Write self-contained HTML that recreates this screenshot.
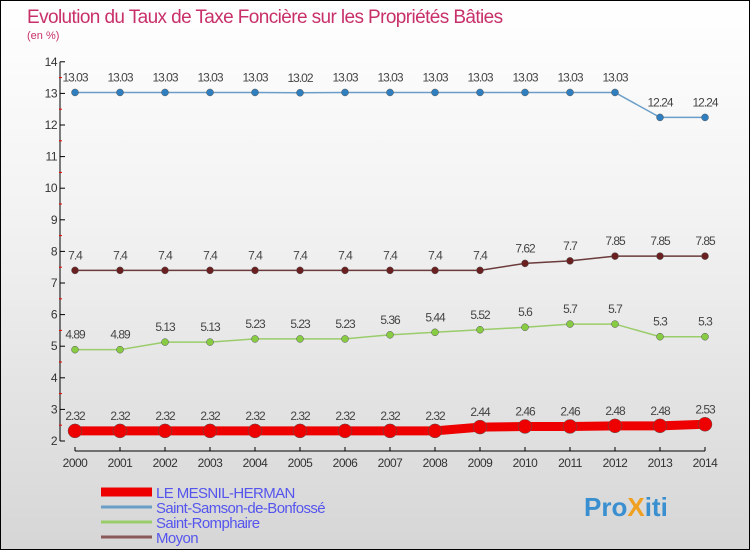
<!DOCTYPE html>
<html><head><meta charset="utf-8"><style>
body{margin:0}
#c{width:748px;height:548px;border:1px solid #000;background:linear-gradient(#fff,#f2f2f2 40%,#d6d6d6);position:relative;overflow:hidden;font-family:"Liberation Sans",sans-serif}
</style></head><body>
<div id="c">
<svg width="748" height="548" id="s">
<text x="26" y="22" font-size="19" fill="#c8306a" letter-spacing="-0.6">Evolution du Taux de Taxe Foncière sur les Propriétés Bâties</text>
<text x="26" y="38" font-size="11" fill="#c8306a">(en %)</text>
<g id="g"></g>
</svg>
</div>
<script>
const years=[2000,2001,2002,2003,2004,2005,2006,2007,2008,2009,2010,2011,2012,2013,2014];
const mesnil=[2.32,2.32,2.32,2.32,2.32,2.32,2.32,2.32,2.32,2.44,2.46,2.46,2.48,2.48,2.53];
const samson=[13.03,13.03,13.03,13.03,13.03,13.02,13.03,13.03,13.03,13.03,13.03,13.03,13.03,12.24,12.24];
const romphaire=[4.89,4.89,5.13,5.13,5.23,5.23,5.23,5.36,5.44,5.52,5.6,5.7,5.7,5.3,5.3];
const moyon=[7.4,7.4,7.4,7.4,7.4,7.4,7.4,7.4,7.4,7.4,7.62,7.7,7.85,7.85,7.85];
const yTicks=[2,3,4,5,6,7,8,9,10,11,12,13,14];
const NS="http://www.w3.org/2000/svg";
const g=document.getElementById('g');
const X=i=>74+i*45, Y=v=>440-(v-2)*31.6;
function el(t,a,p){const e=document.createElementNS(NS,t);for(const k in a)e.setAttribute(k,a[k]);(p||g).appendChild(e);return e;}
let e=el('line',{x1:59,y1:Y(14),x2:59,y2:Y(2),stroke:'#000'});


e=el('line',{x1:74,y1:450,x2:704,y2:450,stroke:'#000'});


yTicks.forEach(v=>{
 el('line',{x1:59,y1:Y(v),x2:64,y2:Y(v),stroke:'#000'});
 if(v<14){el('line',{x1:58,y1:Y(v+0.5),x2:61,y2:Y(v+0.5),stroke:'#e00'});}
 const t=el('text',{x:56,y:Y(v)+4,'font-size':12,'text-anchor':'end',fill:'#333','letter-spacing':'-0.5'});t.textContent=v;
 
 
});
years.forEach((yr,i)=>{
 el('line',{x1:X(i),y1:446,x2:X(i),y2:450,stroke:'#000'});
 const t=el('text',{x:X(i),y:466,'font-size':12,'text-anchor':'middle',fill:'#333','letter-spacing':'-0.5'});t.textContent=yr;
 
 
});
function series(vals,color,dot,w,r,name){
 const p=el('polyline',{points:vals.map((v,i)=>X(i)+','+Y(v)).join(' '),fill:'none',stroke:color,'stroke-width':w});
 
 
 vals.forEach((v,i)=>{
  const c=el('circle',{cx:X(i),cy:Y(v),r:r,fill:dot,stroke:'#555','stroke-width':0.5});
  
  
  const t=el('text',{x:X(i),y:Y(v)-11,'font-size':12,'text-anchor':'middle',fill:'#444','letter-spacing':'-1'});t.textContent=v;
  
  
 });
}
series(samson,'#6a9ec8','#2f7fc0',1.5,3.5,'saint-samson');
series(moyon,'#6b3a3a','#6a2020',1.5,3.5,'moyon');
series(romphaire,'#9acc6a','#88cc44',1.5,3.5,'saint-romphaire');
series(mesnil,'#ee0000','#ee0000',9,7,'le-mesnil-herman');
const leg=[['LE MESNIL-HERMAN','#ee0000',9],['Saint-Samson-de-Bonfossé','#6a9ec8',3],['Saint-Romphaire','#9acc6a',3],['Moyon','#8a5a5a',3]];
leg.forEach((l,i)=>{
 const y=491+i*15;
 el('line',{x1:100,y1:y,x2:151,y2:y,stroke:l[1],'stroke-width':l[2]});
 const t=el('text',{x:155,y:y+6,'font-size':15,fill:'#5555ee','letter-spacing':'-0.6'});t.textContent=l[0];
 
 
});
const lg=el('text',{x:583,y:515,'font-size':26,'font-weight':'bold',fill:'#3a8fd0'});


[['Pro','#3a8fd0'],['X','#f0a020'],['iti','#3a8fd0']].forEach(s=>{const ts=el('tspan',{fill:s[1]},lg);ts.textContent=s[0];});
</script>
</body></html>
